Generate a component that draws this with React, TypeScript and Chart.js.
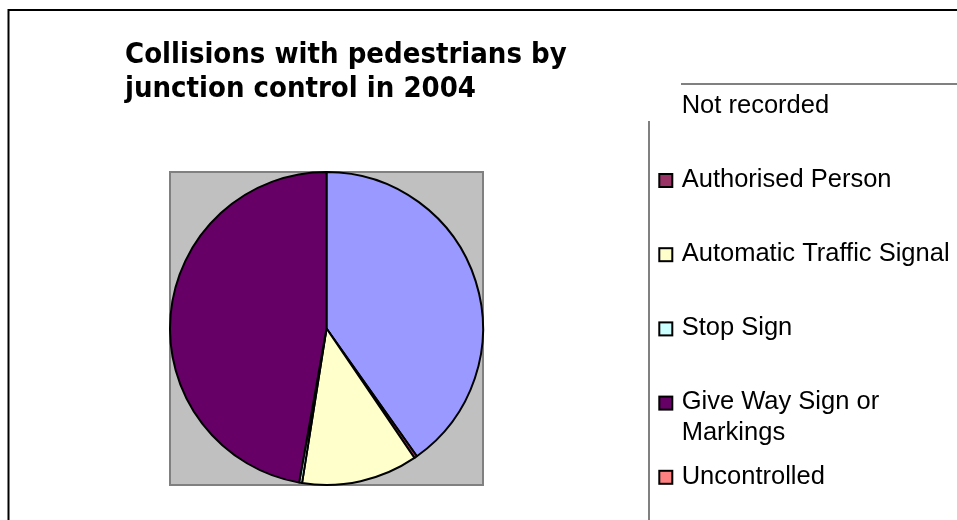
import React, { useEffect, useRef } from "react";
import { Chart, registerables } from "chart.js";

Chart.register(...registerables);

// ---- data ----
const categories = [
  "Not recorded",
  "Authorised Person",
  "Automatic Traffic Signal",
  "Stop Sign",
  "Give Way Sign or Markings",
  "Uncontrolled",
];
const collisions = [402, 3, 120, 3, 472, 0];
const sliceColors = ["#9999FF", "#993366", "#FFFFCC", "#CCFFFF", "#660066", "#FF8080"];
const titleLines = ["Collisions with pedestrians by", "junction control in 2004"];

// ---- layout ----
const W = 957;
const H = 520;
const LEGEND = {
  markerX: 659.3,
  markerSize: 13,
  textX: 681.7,
  firstBaseline: 112.5,
  step: 74.2,
  lineHeight: 30.7,
  maxWidth: 272,
  font: "25.5px 'Liberation Sans', Arial, sans-serif",
};
const TITLE = {
  x: 125,
  baseline: 62.5,
  lineHeight: 34.5,
  font: "bold 29px 'DejaVu Sans Condensed', 'DejaVu Sans', sans-serif",
};

function wrapWords(ctx: CanvasRenderingContext2D, text: string, maxWidth: number): string[] {
  const words = text.split(" ");
  const lines: string[] = [];
  let cur = "";
  for (const w of words) {
    const test = cur ? cur + " " + w : w;
    if (cur && ctx.measureText(test).width > maxWidth) {
      lines.push(cur);
      cur = w;
    } else {
      cur = test;
    }
  }
  if (cur) lines.push(cur);
  return lines;
}

const decorPlugin = {
  id: "decor",
  beforeDatasetsDraw(chart: any) {
    const { ctx, chartArea: a } = chart;
    ctx.save();
    ctx.fillStyle = "#C0C0C0";
    ctx.fillRect(a.left, a.top, a.right - a.left, a.bottom - a.top);
    ctx.strokeStyle = "#808080";
    ctx.lineWidth = 2;
    ctx.strokeRect(a.left + 1, a.top + 1, a.right - a.left - 2, a.bottom - a.top - 2);
    ctx.restore();
  },
  afterDraw(chart: any) {
    const ctx: CanvasRenderingContext2D = chart.ctx;
    ctx.save();
    // outer frame (only top/left visible)
    ctx.strokeStyle = "#000000";
    ctx.lineWidth = 2;
    ctx.beginPath();
    ctx.moveTo(8.5, H);
    ctx.lineTo(8.5, 10);
    ctx.lineTo(W, 10);
    ctx.stroke();

    // title
    ctx.fillStyle = "#000000";
    ctx.font = TITLE.font;
    ctx.textBaseline = "alphabetic";
    ctx.textAlign = "left";
    titleLines.forEach((t, i) => ctx.fillText(t, TITLE.x, TITLE.baseline + i * TITLE.lineHeight));

    // legend frame fragments
    ctx.strokeStyle = "#808080";
    ctx.lineWidth = 2;
    ctx.beginPath();
    ctx.moveTo(681, 84);
    ctx.lineTo(W, 84);
    ctx.stroke();
    ctx.beginPath();
    ctx.moveTo(649, 121);
    ctx.lineTo(649, H);
    ctx.stroke();

    // legend items
    const labels: string[] = chart.data.labels;
    const colors: string[] = chart.data.datasets[0].backgroundColor;
    ctx.font = LEGEND.font;
    labels.forEach((label, i) => {
      const baseline = LEGEND.firstBaseline + i * LEGEND.step;
      if (i > 0) {
        const cy = baseline - 6.2;
        const s = LEGEND.markerSize;
        ctx.fillStyle = colors[i];
        ctx.fillRect(LEGEND.markerX, cy - s / 2, s, s);
        ctx.strokeStyle = "#000000";
        ctx.lineWidth = 2;
        ctx.strokeRect(LEGEND.markerX, cy - s / 2, s, s);
      }
      ctx.fillStyle = "#000000";
      const lines = wrapWords(ctx, label, LEGEND.maxWidth);
      lines.forEach((ln, j) => ctx.fillText(ln, LEGEND.textX, baseline + j * LEGEND.lineHeight));
    });
    ctx.restore();
  },
};

export default function App() {
  const ref = useRef<HTMLCanvasElement | null>(null);
  useEffect(() => {
    if (!ref.current) return;
    const chart = new Chart(ref.current, {
      type: "pie",
      data: {
        labels: categories,
        datasets: [
          {
            data: collisions,
            backgroundColor: sliceColors,
            borderColor: "#000000",
            borderWidth: 2,
          },
        ],
      },
      options: {
        responsive: false,
        animation: false,
        devicePixelRatio: 1,
        layout: { padding: { left: 169, top: 171, right: 473, bottom: 34 } },
        plugins: {
          legend: { display: false },
          tooltip: { enabled: false },
          title: { display: false },
        },
      },
      plugins: [decorPlugin],
    } as any);
    return () => chart.destroy();
  }, []);
  return (
    <div style={{ position: "absolute", left: 0, top: 0, width: W, height: H, background: "#ffffff" }}>
      <canvas ref={ref} width={W} height={H} style={{ display: "block", width: W, height: H }} />
    </div>
  );
}
